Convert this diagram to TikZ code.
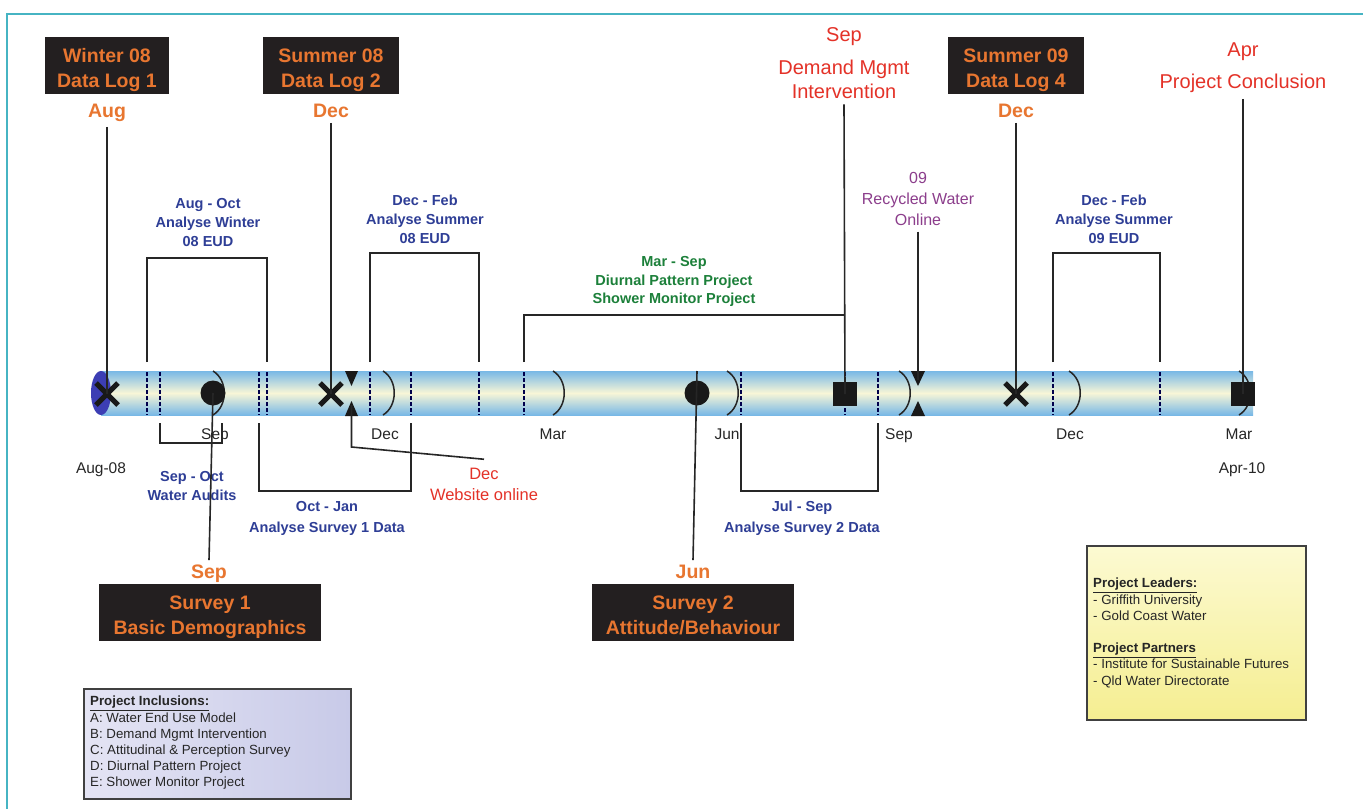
\documentclass[tikz,border=0pt]{standalone}
\usepackage{fontspec}
\setmainfont{Liberation Sans}
\usetikzlibrary{shapes.misc}
\definecolor{orng}{RGB}{232,118,48}
\definecolor{boxblk}{RGB}{35,31,32}
\definecolor{tblue}{RGB}{46,62,150}
\definecolor{tgreen}{RGB}{28,128,58}
\definecolor{tred}{RGB}{228,50,40}
\definecolor{tpurple}{RGB}{140,62,140}
\definecolor{framec}{RGB}{70,180,195}
\definecolor{barblue}{RGB}{120,184,230}
\definecolor{barmid}{RGB}{248,246,215}
\definecolor{endblue}{RGB}{60,62,180}
\definecolor{lavA}{RGB}{200,202,232}
\definecolor{lavB}{RGB}{228,228,244}
\definecolor{yelA}{RGB}{245,238,145}
\definecolor{yelB}{RGB}{252,250,210}
\begin{document}
\begin{tikzpicture}[x=1pt,y=-1pt,
 every node/.style={inner sep=0pt, align=center},
 darkbox/.style={fill=boxblk, text=orng, font=\fontsize{19.5}{25}\selectfont\bfseries, text height=47pt, text depth=4pt},
 orlabel/.style={text=orng, font=\fontsize{19.5}{24}\selectfont\bfseries, outer sep=5pt},
 redlabel/.style={text=tred, font=\fontsize{20}{24}\selectfont, outer sep=6pt},
 purplabel/.style={text=tpurple, font=\fontsize{16}{21}\selectfont, outer sep=6pt},
 bluelabel/.style={text=tblue, font=\fontsize{14.5}{19}\selectfont\bfseries},
 greenlabel/.style={text=tgreen, font=\fontsize{14.5}{18.5}\selectfont\bfseries},
 monthlabel/.style={text=black!85, font=\fontsize{15.5}{18}\selectfont},
 vline/.style={draw=black!85, line width=1.6pt},
 bracket/.style={draw=black!85, line width=2.4pt},
 dashline/.style={draw=black!70!blue, line width=1.3pt, dash pattern=on 3.5pt off 2.5pt},
 arcline/.style={draw=black!85, line width=1.5pt},
 xmark/.style={cross out, draw=black!90, line width=5pt, minimum size=17pt},
 dot/.style={circle, fill=black!90, minimum size=25pt},
 sq/.style={fill=black!90, minimum size=24pt},
 legendbox/.style={draw=black!75, line width=1.5pt},
 legendtext/.style={align=left, anchor=north west, text=black!85, font=\fontsize{13.3}{16.2}\selectfont}
]
\useasboundingbox (0,0) rectangle (1363,809);
\fill[white] (0,0) rectangle (1363,809);
\draw[framec, line width=1.5pt] (1363,14) -- (7,14) -- (7,809);

% timeline bar
\shade[top color=barblue, bottom color=barblue, middle color=barmid] (101,371) rectangle (1253,415);
\fill[endblue] (101,393) ellipse [x radius=10, y radius=22];

% dashed ticks
\foreach \x in {147,160,259,267,370,411,479,524,741,845,878,1053,1160}
  \draw[dashline] (\x,372) -- (\x,415);
% month arcs
\foreach \x in {213,383,553,727,899,1069,1239}
  \draw[arcline] (\x,371) .. controls (\x+15,380) and (\x+15,406) .. (\x,415);

% brackets above
\draw[bracket] (147,362) -- (147,258) -- (267,258) -- (267,362);
\draw[bracket] (370,362) -- (370,253) -- (479,253) -- (479,362);
\draw[bracket] (524,362) -- (524,315) -- (844,315);
\draw[bracket] (1053,362) -- (1053,253) -- (1160,253) -- (1160,362);
% brackets below
\draw[bracket, line width=1.8pt] (160,423) -- (160,443) -- (222,443) -- (222,423);
\draw[bracket] (259,423) -- (259,491) -- (411,491) -- (411,423);
\draw[bracket] (741,423) -- (741,491) -- (878,491) -- (878,423);

% markers
\node[xmark] (xaug) at (107,394) {};
\node[xmark] (xdec1) at (331,394) {};
\node[xmark] (xdec2) at (1016,394) {};
\node[dot] (c1) at (213,393) {};
\node[dot] (c2) at (697,393) {};
\coordinate (c2top) at (697,371);
\node[sq] (sqdm) at (845,394) {};
\node[sq] (sqapr) at (1243,394) {};
\fill[black!90] (345,371) -- (358,371) -- (351.5,386) -- cycle;
\fill[black!90] (345,416) -- (358,416) -- (351.5,401) -- cycle;
\fill[black!90] (911,371) -- (925,371) -- (918,386) -- cycle;
\fill[black!90] (911,416) -- (925,416) -- (918,401) -- cycle;
\coordinate (webtri) at (351.5,405);
\coordinate (rectri) at (918,380);

% top labels
\node[darkbox, minimum width=124pt, minimum height=57pt] (w08) at (107,65.5) {Winter 08\\Data Log 1};
\node[orlabel] (augl) at (107,113) {Aug};
\node[darkbox, minimum width=136pt, minimum height=57pt] (s08) at (331,65.5) {Summer 08\\Data Log 2};
\node[orlabel] (decl1) at (331,111) {Dec};
\node[darkbox, minimum width=136pt, minimum height=57pt] (s09) at (1016,65.5) {Summer 09\\Data Log 4};
\node[orlabel] (decl2) at (1016,111) {Dec};
\node[redlabel] (sepl) at (844,37) {Sep};
\node[redlabel] (dml) at (844,79) {Demand Mgmt\\Intervention};
\node[redlabel] (aprl) at (1243,68) {Apr\\[8pt]Project Conclusion};
\node[purplabel] (recl) at (918,199) {09\\Recycled Water\\Online};

\node[bluelabel] (augoct) at (208,223) {Aug - Oct\\Analyse Winter\\08 EUD};
\node[bluelabel] (decfeb1) at (425,219) {Dec - Feb\\Analyse Summer\\08 EUD};
\node[bluelabel] (decfeb2) at (1114,219) {Dec - Feb\\Analyse Summer\\09 EUD};
\node[greenlabel] (marsep) at (674,281.5) {Mar - Sep\\Diurnal Pattern Project\\Shower Monitor Project};

% bottom labels
\node[bluelabel] (sepoct) at (192,486) {Sep - Oct\\Water Audits};
\node[bluelabel, font=\fontsize{14.5}{21}\selectfont\bfseries] (octjan) at (327,518) {Oct - Jan\\Analyse Survey 1 Data};
\node[bluelabel, font=\fontsize{14.5}{21}\selectfont\bfseries] (julsep) at (802,518) {Jul - Sep\\Analyse Survey 2 Data};
\node[text=tred, font=\fontsize{16.5}{21}\selectfont, outer sep=9pt] (webl) at (484,484.5) {Dec\\Website online};

% month labels
\node[monthlabel] (m1) at (215,436) {Sep};
\node[monthlabel] (m2) at (385,434) {Dec};
\node[monthlabel] (m3) at (553,434) {Mar};
\node[monthlabel] (m4) at (727,434) {Jun};
\node[monthlabel] (m5) at (899,436) {Sep};
\node[monthlabel] (m6) at (1070,434) {Dec};
\node[monthlabel] (m7) at (1239,434) {Mar};
\node[monthlabel] (start) at (101,470) {Aug-08};
\node[monthlabel] (finish) at (1242,470) {Apr-10};

% surveys
\node[orlabel] (sep1l) at (209,574) {Sep};
\node[darkbox, minimum width=222pt, minimum height=57pt] (sv1) at (210,612.5) {Survey 1\\Basic Demographics};
\node[orlabel] (junl) at (693,572) {Jun};
\node[darkbox, minimum width=202pt, minimum height=57pt] (sv2) at (693,612.5) {Survey 2\\Attitude/Behaviour};

% connectors
\draw[vline] (augl.south) -- (xaug.center);
\draw[vline] (decl1.south) -- (xdec1.center);
\draw[vline] (decl2.south) -- (xdec2.center);
\draw[vline] (dml.south) -- (sqdm.center);
\draw[vline] (aprl.south) -- (sqapr.center);
\draw[vline] (recl.south) -- (rectri);
\draw[vline] (c1.center) -- (sep1l.north);
\draw[vline] (c2top) -- (junl.north);
\draw[vline] (webl.north) -- (351.5,447) -- (webtri);

% legends
\node[legendbox, left color=lavB, right color=lavA, minimum width=267pt, minimum height=110pt, anchor=north west] (leg1) at (83,688) {};
\node[legendtext] (leg1t) at (90,696) {\underline{\textbf{Project Inclusions:}}\\A: Water End Use Model\\B: Demand Mgmt Intervention\\C: Attitudinal \& Perception Survey\\D: Diurnal Pattern Project\\E: Shower Monitor Project};
\node[legendbox, top color=yelB, bottom color=yelA, minimum width=219pt, minimum height=174pt, anchor=north west] (leg2) at (1086,545) {};
\node[legendtext] (leg2t) at (1093,578) {\underline{\textbf{Project Leaders:}}\\- Griffith University\\- Gold Coast Water\\[16.2pt]\underline{\textbf{Project Partners}}\\- Institute for Sustainable Futures\\- Qld Water Directorate};
\end{tikzpicture}
\end{document}
